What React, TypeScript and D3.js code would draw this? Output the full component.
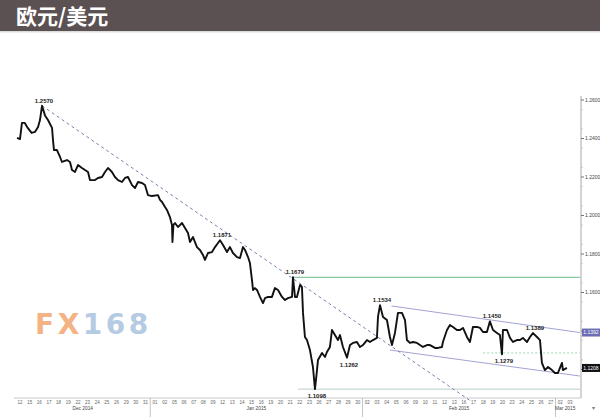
import * as d3 from 'd3'

// trading days shown on the x axis
const dayLabels = [
  '12', '15', '16', '17', '18', '19', '22', '23', '24', '25', '26', '29', '30', '31',
  '01', '02', '05', '06', '07', '08', '09', '12', '13', '14', '15', '16', '19', '20', '21', '22', '23', '26', '27', '28', '29', '30',
  '02', '03', '04', '05', '06', '09', '10', '11', '12', '13', '16', '17', '18', '19', '20', '23', '24', '25', '26', '27',
  '02', '03',
]
const monthNames = ['Dec 2014', 'Jan 2015', 'Feb 2015', 'Mar 2015']
const monthStarts = [0, 14, 36, 56]

// 1.14 and 1.12 sit under the price boxes
const yTicks = [1.16, 1.18, 1.2, 1.22, 1.24, 1.26]
const yTickMarks = [1.12, 1.14, 1.16, 1.18, 1.2, 1.22, 1.24, 1.26]

// EUR/USD path (position in trading days, price)
const priceT = [
  -0.3, 0, 0.2, 0.5, 0.8, 1.2, 1.55, 1.87, 2.07, 2.28, 2.59, 2.9, 3.32, 3.42, 3.52, 3.83, 4.15, 4.35, 4.87, 5.18,
  5.39, 5.7, 6.01, 6.42, 6.74, 7.05, 7.25, 7.77, 8.08, 8.5, 8.81, 9.12, 9.53, 9.84, 10.16, 10.57, 10.88, 11.19, 11.61, 11.92,
  12.23, 12.64, 12.95, 13.26, 13.68, 14.3, 14.51, 14.72, 15.03, 15.23, 15.54, 15.75, 15.8, 15.9, 16.06, 16.37, 16.79, 17.1, 17.41, 17.62,
  17.93, 18.34, 18.65, 18.96, 19.17, 19.48, 19.9, 20.21, 20.52, 20.73, 21.04, 21.45, 21.76, 22.07, 22.49, 22.8, 23.11, 23.32, 23.63, 23.83,
  24.04, 24.15, 24.35, 24.56, 24.87, 25.18, 25.39, 25.7, 26.11, 26.42, 26.74, 27.15, 27.46, 27.77, 28.19, 28.29, 28.5, 28.7, 29.02, 29.22,
  29.33, 29.53, 29.74, 30.05, 30.36, 30.57, 30.78, 30.88, 31.3, 31.61, 31.81, 32.12, 32.33, 32.64, 32.95, 33.16, 33.47, 33.89, 34.2, 34.51,
  34.92, 35.23, 35.54, 35.96, 36.27, 36.58, 36.99, 37.1, 37.31, 37.62, 38.03, 38.34, 38.55, 38.86, 39.17, 39.59, 39.9, 40.1, 40.41, 40.73,
  41.14, 41.45, 41.76, 42.18, 42.49, 43.01, 43.32, 43.73, 43.83, 44.25, 44.56, 44.87, 45.28, 45.6, 45.91, 46.32, 46.63, 46.94, 47.36, 47.67,
  47.98, 48.39, 48.7, 49.02, 49.43, 49.74, 49.95, 50.05, 50.47, 50.78, 51.09, 51.5, 51.81, 52.12, 52.54, 52.85, 53.16, 53.58, 53.89, 54.09,
  54.4, 54.72, 55.13, 55.44, 55.75, 56.17, 56.27, 56.68,
]
const priceV = [
  1.2403, 1.2397, 1.2481, 1.2481, 1.2455, 1.2429, 1.2434, 1.246, 1.2496, 1.257, 1.252, 1.2496, 1.2455, 1.2392, 1.234, 1.234, 1.2304, 1.2278, 1.2288, 1.2278,
  1.2236, 1.2226, 1.2262, 1.2247, 1.2236, 1.2226, 1.2184, 1.2184, 1.2195, 1.22, 1.2226, 1.2247, 1.2226, 1.22, 1.2184, 1.2174, 1.2195, 1.22, 1.2158, 1.2143,
  1.2174, 1.2169, 1.2158, 1.2106, 1.2101, 1.2106, 1.2081, 1.207, 1.2044, 1.2029, 1.1992, 1.1951, 1.1862, 1.1951, 1.1961, 1.194, 1.1961, 1.1935, 1.1909, 1.1862,
  1.1888, 1.1836, 1.1821, 1.1795, 1.1769, 1.1805, 1.181, 1.1836, 1.1857, 1.1871, 1.1847, 1.181, 1.1836, 1.1805, 1.1784, 1.1779, 1.1836, 1.1821, 1.1784, 1.1753,
  1.1665, 1.1613, 1.1623, 1.1613, 1.1577, 1.1545, 1.1571, 1.1577, 1.1577, 1.1623, 1.1613, 1.1577, 1.1561, 1.1571, 1.1577, 1.1679, 1.1577, 1.1577, 1.1639, 1.1629,
  1.1494, 1.1369, 1.1353, 1.1301, 1.1213, 1.1098, 1.1197, 1.1249, 1.1286, 1.1265, 1.1291, 1.1317, 1.1405, 1.1379, 1.1353, 1.1379, 1.1317, 1.1262, 1.1327, 1.1338,
  1.1343, 1.1317, 1.1327, 1.1353, 1.1343, 1.1353, 1.1364, 1.1473, 1.1534, 1.1473, 1.1457, 1.1369, 1.1327, 1.139, 1.1494, 1.1494, 1.1457, 1.1353, 1.1338, 1.1343,
  1.1338, 1.1327, 1.1317, 1.1327, 1.1327, 1.1312, 1.1312, 1.1317, 1.1343, 1.1405, 1.1431, 1.1421, 1.1405, 1.1405, 1.1416, 1.1369, 1.1343, 1.1421, 1.1421, 1.1416,
  1.1395, 1.1395, 1.145, 1.1405, 1.139, 1.1379, 1.1279, 1.1405, 1.1405, 1.1364, 1.1343, 1.1353, 1.1353, 1.1364, 1.1343, 1.1369, 1.1389, 1.1369, 1.1353, 1.1234,
  1.1197, 1.1213, 1.1197, 1.1182, 1.1182, 1.1234, 1.1197, 1.1208,
]

// annotated highs / lows
const markT = [2.28, 20.73, 28.29, 37.31, 33.89, 30.57, 48.7, 49.95, 53.16]
const markV = [1.257, 1.1871, 1.1679, 1.1534, 1.1262, 1.1098, 1.145, 1.1279, 1.1389]
const markBelow = [false, false, false, false, true, true, false, true, false]

// drawn study lines: [t0, v0, t1, v1]
const downTrend = [2.28, 1.257, 46.6, 1.104]
const resistance = [28.3, 1.1679, 58.03, 1.1679]
const support = [28.8, 1.1098, 58.03, 1.1098]
const channelTop = [38.5, 1.153, 58.03, 1.1392]
const channelBottom = [38.34, 1.1301, 58.03, 1.1166]
const midLevel = [48, 1.1286, 58.03, 1.1286]

const channelBoxLabel = '1.1392'

export default function App() {
  const W = 600
  const H = 417
  const x = d3.scaleLinear().domain([0, 57]).range([20, 570])
  const y = d3.scaleLinear().domain([1.12, 1.26]).range([369.5, 100])
  const axisX = 581
  const axisY = 398
  const font = 'Liberation Sans, Arial, sans-serif'

  const line = d3.line<number>()
    .x((_, i) => x(priceT[i]))
    .y(d => y(d))

  const seg = (s: number[]) => ({ x1: x(s[0]), y1: y(s[1]), x2: x(s[2]), y2: y(s[3]) })

  const minorTicks = d3.range(1.125, 1.26, 0.01)
  const lastV = priceV[priceV.length - 1]

  return (
    <svg width={W} height={H} style={{ position: 'absolute', left: 0, top: 0, background: '#fff' }}>
      {/* header */}
      <rect x={0} y={0} width={W} height={31} fill="#5b5152" />
      <rect x={0} y={31} width={W} height={1.5} fill="#dcdcdc" />
      <text x={16} y={24} fill="#fff" fontSize={21} fontWeight="bold"
        fontFamily="Noto Sans CJK SC, sans-serif">欧元/美元</text>

      {/* watermark */}
      <text x={35} y={334} fontSize={28} fontWeight="bold" fontFamily="DejaVu Sans, sans-serif" letterSpacing={3.5} opacity={0.9}>
        <tspan fill="#f3ab78">FX</tspan>
        <tspan fill="#adc6e0">168</tspan>
      </text>

      {/* right axis */}
      <line x1={axisX} x2={axisX} y1={96} y2={axisY} stroke="#a8a8a8" strokeWidth={1} />
      {minorTicks.map((v, i) => (
        <line key={'m' + i} x1={axisX} x2={axisX + 2} y1={y(v)} y2={y(v)} stroke="#bbb" strokeWidth={0.6} />
      ))}
      {yTickMarks.map(v => (
        <line key={'t' + v} x1={axisX} x2={axisX + 3} y1={y(v)} y2={y(v)} stroke="#555" strokeWidth={0.8} />
      ))}
      {yTicks.map(v => (
        <text key={v} x={axisX + 4} y={y(v) + 1.8} fontSize={5} fill="#444" fontFamily={font}>{v.toFixed(4)}</text>
      ))}

      {/* bottom axis */}
      <line x1={14} x2={axisX} y1={axisY} y2={axisY} stroke="#bbb" strokeWidth={0.8} />
      {dayLabels.map((d, i) => (
        <text key={'d' + i} x={x(i)} y={axisY + 6} fontSize={4.5} fill="#666" textAnchor="middle" fontFamily={font}>{d}</text>
      ))}
      {monthStarts.map((s, i) => {
        const end = i < monthStarts.length - 1 ? monthStarts[i + 1] - 1 : dayLabels.length - 1
        return (
          <g key={'mo' + i}>
            {i > 0 && (
              <line x1={x(s - 0.5)} x2={x(s - 0.5)} y1={axisY} y2={H} stroke="#aaa" strokeWidth={0.7} />
            )}
            <text x={x((s + end) / 2)} y={axisY + 12} fontSize={4.8} fill="#444" textAnchor="middle" fontFamily={font}>
              {monthNames[i]}
            </text>
          </g>
        )
      })}
      <text x={592} y={axisY + 12} fontSize={6} fill="#777" fontFamily={font}>▾</text>

      {/* study lines */}
      <line {...seg(resistance)} stroke="#86c9a2" strokeWidth={1.2} />
      <line {...seg(support)} stroke="#b9cfc2" strokeWidth={1} />
      <line {...seg(midLevel)} stroke="#9fd6b5" strokeWidth={1} strokeDasharray="2,2" />
      <line {...seg(channelTop)} stroke="#a3a3d3" strokeWidth={1} />
      <line {...seg(channelBottom)} stroke="#a3a3d3" strokeWidth={1} />
      <line {...seg(downTrend)} stroke="#7c7cae" strokeWidth={1} strokeDasharray="3,3" />

      {/* price */}
      <path d={line(priceV) || ''} fill="none" stroke="#111" strokeWidth={1.9} strokeLinejoin="round" />

      {/* annotations */}
      {markV.map((v, i) => (
        <text key={'a' + i} x={x(markT[i]) + 2} y={y(v) + (markBelow[i] ? 9 : -3)} fontSize={6} fill="#222"
          fontWeight="bold" textAnchor="middle" fontFamily={font}>{v.toFixed(4)}</text>
      ))}

      {/* price boxes on the axis */}
      <rect x={axisX + 1} y={y(channelTop[3]) - 4} width={18} height={8} fill="#6d6db4" />
      <text x={axisX + 10} y={y(channelTop[3]) + 1.8} fontSize={5} fill="#fff" textAnchor="middle" fontFamily={font}>{channelBoxLabel}</text>
      <rect x={axisX + 1} y={y(lastV) - 4} width={18} height={8} fill="#111" />
      <text x={axisX + 10} y={y(lastV) + 1.8} fontSize={5} fill="#fff" textAnchor="middle" fontFamily={font}>{lastV.toFixed(4)}</text>
    </svg>
  )
}
